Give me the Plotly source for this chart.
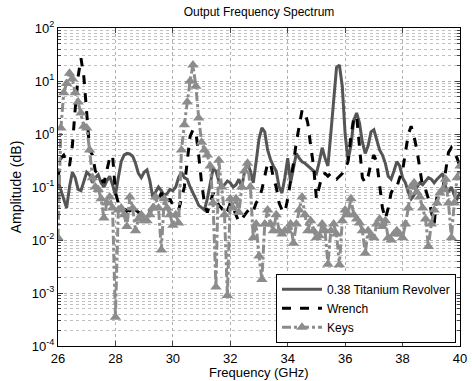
import plotly.graph_objects as go

FREQ = [26.0, 26.1, 26.2, 26.3, 26.4, 26.5, 26.6, 26.7, 26.8, 26.9,
        27.0, 27.1, 27.2, 27.3, 27.4, 27.5, 27.6, 27.7, 27.8, 27.9,
        28.0, 28.1, 28.2, 28.3, 28.4, 28.5, 28.6, 28.7, 28.8, 28.9,
        29.0, 29.1, 29.2, 29.3, 29.4, 29.5, 29.6, 29.7, 29.8, 29.9,
        30.0, 30.1, 30.2, 30.3, 30.4, 30.5, 30.6, 30.7, 30.8, 30.9,
        31.0, 31.1, 31.2, 31.3, 31.4, 31.5, 31.6, 31.7, 31.8, 31.9,
        32.0, 32.1, 32.2, 32.3, 32.4, 32.5, 32.6, 32.7, 32.8, 32.9,
        33.0, 33.1, 33.2, 33.3, 33.4, 33.5, 33.6, 33.7, 33.8, 33.9,
        34.0, 34.1, 34.2, 34.3, 34.4, 34.5, 34.6, 34.7, 34.8, 34.9,
        35.0, 35.1, 35.2, 35.3, 35.4, 35.5, 35.6, 35.7, 35.8, 35.9,
        36.0, 36.1, 36.2, 36.3, 36.4, 36.5, 36.6, 36.7, 36.8, 36.9,
        37.0, 37.1, 37.2, 37.3, 37.4, 37.5, 37.6, 37.7, 37.8, 37.9,
        38.0, 38.1, 38.2, 38.3, 38.4, 38.5, 38.6, 38.7, 38.8, 38.9,
        39.0, 39.1, 39.2, 39.3, 39.4, 39.5, 39.6, 39.7, 39.8, 39.9,
        40.0]

REVOLVER = [0.13, 0.09, 0.06, 0.04, 0.1, 0.19, 0.15, 0.09, 0.085, 0.13,
            0.19, 0.17, 0.12, 0.15, 0.17, 0.12, 0.1, 0.13, 0.16, 0.11,
            0.07, 0.15, 0.3, 0.4, 0.43, 0.42, 0.38, 0.28, 0.18, 0.15,
            0.19, 0.21, 0.13, 0.065, 0.08, 0.1, 0.085, 0.07, 0.075, 0.09,
            0.085, 0.1, 0.15, 0.19, 0.15, 0.14, 0.1, 0.08, 0.06, 0.045,
            0.04, 0.037, 0.06, 0.12, 0.22, 0.2, 0.13, 0.1, 0.11, 0.13,
            0.12, 0.1, 0.11, 0.14, 0.1, 0.2, 0.28, 0.2, 0.12, 0.3,
            0.8, 1.3, 1.1, 0.5, 0.33, 0.25, 0.2, 0.1, 0.077, 0.15,
            0.35, 0.12, 0.25, 0.43, 0.35, 0.3, 0.28, 0.25, 0.22, 0.2,
            0.18, 0.3, 0.55, 0.35, 0.25, 1.0, 5.0, 18.0, 20.0, 8.0,
            1.0, 0.32, 0.6, 1.8, 2.5, 1.6, 0.7, 0.43, 0.6, 1.1,
            1.2, 0.8, 0.5, 0.4, 0.28, 0.16, 0.14, 0.2, 0.3, 0.25,
            0.15, 0.12, 0.08, 0.06, 0.07, 0.1, 0.12, 0.11, 0.13, 0.15,
            0.14, 0.12, 0.14, 0.16, 0.18, 0.1, 0.08, 0.1, 0.07, 0.06,
            0.08]

WRENCH = [0.15, 0.35, 0.4, 0.3, 0.25, 0.6, 3.0, 12.0, 27.0, 12.0,
          2.5, 0.5, 0.4, 0.2, 0.18, 0.14, 0.12, 0.2, 0.35, 0.4,
          0.08, 0.05, 0.045, 0.04, 0.035, 0.037, 0.03, 0.037, 0.033, 0.03,
          0.033, 0.03, 0.035, 0.04, 0.05, 0.06, 0.077, 0.06, 0.05, 0.06,
          0.045, 0.04, 0.037, 0.06, 0.1, 0.3, 0.9, 1.2, 1.1, 0.4,
          0.12, 0.05, 0.033, 0.05, 0.077, 0.06, 0.045, 0.04, 0.03, 0.035,
          0.05, 0.04, 0.03, 0.022, 0.025, 0.03, 0.035, 0.04, 0.035, 0.05,
          0.06, 0.09, 0.15, 0.28, 0.28, 0.15, 0.1, 0.05, 0.037, 0.033,
          0.06, 0.12, 0.28, 0.7, 1.5, 2.8, 2.6, 1.6, 0.6, 0.25,
          0.06, 0.1, 0.17, 0.18, 0.16, 0.18, 0.15, 0.14, 0.16, 0.18,
          0.22, 0.3, 0.9, 2.0, 2.2, 0.6, 0.15, 0.12, 0.16, 0.28,
          0.4, 0.3, 0.1, 0.04, 0.025, 0.04, 0.077, 0.1, 0.1, 0.15,
          0.2, 0.5, 1.0, 1.4, 0.9, 0.5, 0.2, 0.1, 0.09, 0.06,
          0.035, 0.02, 0.07, 0.09, 0.09, 0.2, 0.45, 0.55, 0.45, 0.35,
          0.24]

KEYS = [0.011, 1.3, 6.0, 9.0, 14.0, 11.0, 6.0, 4.0, 2.5, 1.4,
        1.3, 0.5, 0.15, 0.1, 0.09, 0.06, 0.026, 0.05, 0.065, 0.04,
        0.00035, 0.037, 0.04, 0.03, 0.018, 0.065, 0.04, 0.015, 0.025, 0.03,
        0.023, 0.023, 0.03, 0.04, 0.065, 0.04, 0.0065, 0.06, 0.04, 0.03,
        0.019, 0.03, 0.021, 0.5, 1.5, 4.0, 10.0, 20.0, 8.0, 2.0,
        0.7, 0.5, 0.4, 0.25, 0.05, 0.0013, 0.32, 0.1, 0.03, 0.0009,
        0.06, 0.04, 0.06, 0.033, 0.1, 0.2, 0.28, 0.1, 0.011, 0.02,
        0.005, 0.0018, 0.02, 0.037, 0.02, 0.015, 0.03, 0.015, 0.013, 0.015,
        0.015, 0.02, 0.0087, 0.02, 0.037, 0.065, 0.03, 0.015, 0.023, 0.015,
        0.011, 0.012, 0.02, 0.015, 0.0035, 0.015, 0.02, 0.013, 0.0034, 0.023,
        0.037, 0.03, 0.06, 0.03, 0.025, 0.021, 0.015, 0.0056, 0.015, 0.012,
        0.011, 0.02, 0.025, 0.018, 0.023, 0.011, 0.01, 0.013, 0.015, 0.013,
        0.011, 0.02, 0.04, 0.1, 0.12, 0.08, 0.065, 0.04, 0.025, 0.0075,
        0.02, 0.037, 0.05, 0.077, 0.09, 0.14, 0.05, 0.011, 0.05, 0.15,
        0.25]

X_TICKS = [26, 28, 30, 32, 34, 36, 38, 40]
Y_TICKS = [1e-4, 1e-3, 1e-2, 1e-1, 1e0, 1e1, 1e2]
Y_TICK_TEXT = ["10<sup>-4</sup>", "10<sup>-3</sup>", "10<sup>-2</sup>", "10<sup>-1</sup>",
               "10<sup>0</sup>", "10<sup>1</sup>", "10<sup>2</sup>"]

FONT = "Liberation Sans, Arial, sans-serif"

fig = go.Figure()
fig.add_trace(go.Scatter(x=FREQ, y=REVOLVER, mode="lines", name="0.38 Titanium Revolver",
                         line=dict(color="#555555", width=3)))
fig.add_trace(go.Scatter(x=FREQ, y=WRENCH, mode="lines", name="Wrench",
                         line=dict(color="#000000", width=3, dash="dash")))
fig.add_trace(go.Scatter(x=FREQ, y=KEYS, mode="lines+markers", name="Keys",
                         line=dict(color="#8c8c8c", width=3, dash="dashdot"),
                         marker=dict(symbol="triangle-up", size=10, color="#8c8c8c")))

fig.update_layout(
    width=472, height=381,
    margin=dict(l=58, r=12, t=28, b=35),
    paper_bgcolor="white", plot_bgcolor="white",
    font=dict(family=FONT, size=12, color="black"),
    title=dict(text="Output Frequency Spectrum", x=0.5, xref="paper", xanchor="center",
               y=0.968, yref="container", yanchor="middle", font=dict(size=12)),
    showlegend=True,
    legend=dict(x=0.99, y=0.01, xanchor="right", yanchor="bottom",
                bgcolor="white", bordercolor="black", borderwidth=1,
                font=dict(size=12), tracegroupgap=0, itemwidth=40),
    annotations=[dict(text="Frequency (GHz)", x=0.5, y=-0.084, xref="paper", yref="paper",
                      xanchor="center", yanchor="middle", showarrow=False,
                      font=dict(size=13))],
)
fig.update_xaxes(range=[26, 40], tickvals=X_TICKS, ticks="inside", ticklen=5,
                 tickfont=dict(size=13), ticklabelstandoff=0, automargin=False,
                 showline=True, linecolor="black", linewidth=1, mirror="ticks",
                 showgrid=True, gridcolor="#b0b0b0", griddash="dot", gridwidth=1,
                 zeroline=False)
fig.update_yaxes(type="log", range=[-4, 2], tickvals=Y_TICKS, ticktext=Y_TICK_TEXT,
                 ticks="inside", ticklen=5, tickfont=dict(size=13), automargin=False,
                 showline=True, linecolor="black", linewidth=1, mirror="ticks",
                 showgrid=True, gridcolor="#b0b0b0", griddash="dot", gridwidth=1,
                 minor=dict(dtick="D1", showgrid=True, gridcolor="#c0c0c0", griddash="dot",
                            ticks="inside", ticklen=3),
                 zeroline=False, title=dict(text="Amplitude (dB)", standoff=6))

fig.write_html("out.html")
